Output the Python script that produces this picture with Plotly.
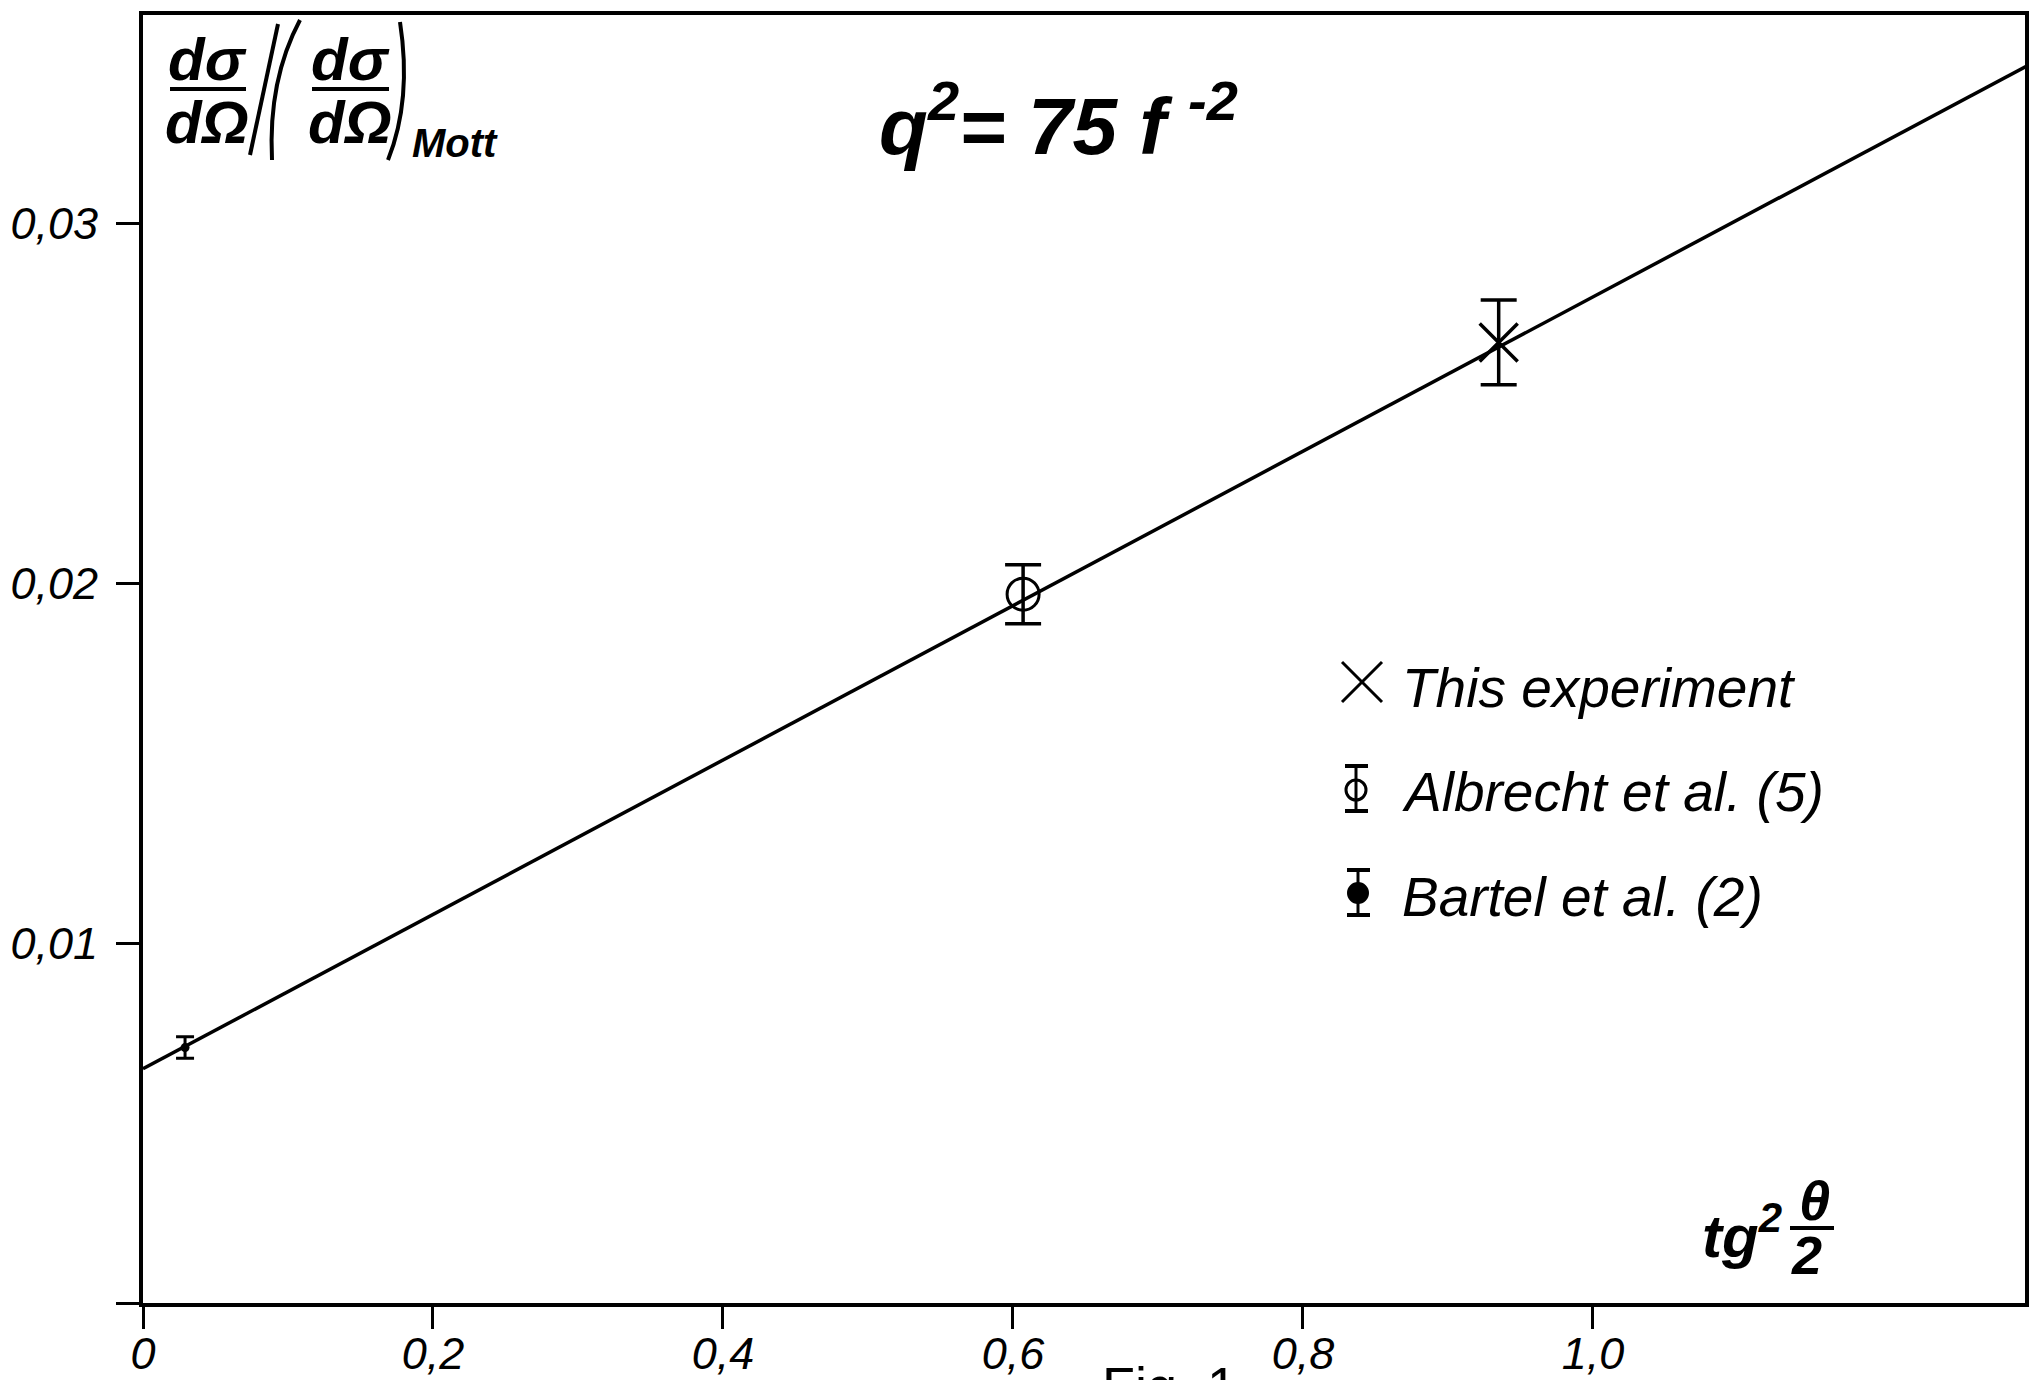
import plotly.graph_objects as go

# ---- data ----
this_x = [0.935]
this_y = [0.0267]
this_err = [0.00118]

albrecht_x = [0.607]
albrecht_y = [0.0197]
albrecht_err = [0.00082]

bartel_x = [0.029]
bartel_y = [0.0071]
bartel_err = [0.0003]

fit_x = [0.0, 1.3]
fit_y = [0.00651, 0.0344]

x_tickvals = [0, 0.2, 0.4, 0.6, 0.8, 1.0]
x_ticktext = ["0", "0,2", "0,4", "0,6", "0,8", "1,0"]
y_tickvals = [0, 0.01, 0.02, 0.03]
y_ticktext = [" ", "0,01", "0,02", "0,03"]

# ---- layout geometry ----
W, H = 2037, 1380
L, R, T, B = 143, 2025, 15, 1303

def px(x):
    return (x - L) / (R - L)

def py(y):
    return (B - y) / (B - T)

SANS = "Liberation Sans, Arial, sans-serif"

fig = go.Figure()

fig.add_trace(go.Scatter(x=fit_x, y=fit_y, mode="lines",
                         line=dict(color="black", width=3.5), showlegend=False))

fig.add_trace(go.Scatter(
    x=bartel_x, y=bartel_y, mode="markers",
    marker=dict(symbol="circle", size=9, color="black"),
    error_y=dict(type="data", array=bartel_err, visible=True, color="black",
                 thickness=3, width=9),
    showlegend=False))

fig.add_trace(go.Scatter(
    x=albrecht_x, y=albrecht_y, mode="markers",
    marker=dict(symbol="circle-open", size=32, color="black", line=dict(width=3, color="black")),
    error_y=dict(type="data", array=albrecht_err, visible=True, color="black",
                 thickness=3.5, width=18),
    showlegend=False))

fig.add_trace(go.Scatter(
    x=this_x, y=this_y, mode="markers",
    marker=dict(symbol="x-thin-open", size=38, color="black", line=dict(width=3.5, color="black")),
    error_y=dict(type="data", array=this_err, visible=True, color="black",
                 thickness=3.5, width=18),
    showlegend=False))

annotations = []
shapes = []

def text(t, x, y, size, bold=False, xanchor="center", yanchor="middle", italic=True):
    if bold:
        t = "<b>" + t + "</b>"
    annotations.append(dict(text=t, x=px(x), y=py(y), xref="paper", yref="paper",
                            showarrow=False, xanchor=xanchor, yanchor=yanchor,
                            font=dict(family=SANS, size=size, color="black",
                                      style="italic" if italic else "normal")))

def hline(x0, x1, y, w=4):
    shapes.append(dict(type="line", xref="paper", yref="paper",
                       x0=px(x0), x1=px(x1), y0=py(y), y1=py(y),
                       line=dict(color="black", width=w)))

def seg(x0, y0, x1, y1, w=3):
    shapes.append(dict(type="line", xref="paper", yref="paper",
                       x0=px(x0), x1=px(x1), y0=py(y0), y1=py(y1),
                       line=dict(color="black", width=w)))

def curve(x0, y0, cx, cy, x1, y1, w=4):
    path = "M %f,%f Q %f,%f %f,%f" % (px(x0), py(y0), px(cx), py(cy), px(x1), py(y1))
    shapes.append(dict(type="path", xref="paper", yref="paper", path=path,
                       line=dict(color="black", width=w)))

# y-axis title: dσ/dΩ / (dσ/dΩ)_Mott
text("dσ", 207, 60, 60, True)
hline(170, 246, 89)
text("dΩ", 207, 122, 60, True)
seg(250, 155, 278, 24, 4)
curve(300, 20, 268, 80, 272, 160, 4)
text("dσ", 350, 60, 60, True)
hline(312, 389, 89)
text("dΩ", 350, 122, 60, True)
curve(400, 22, 412, 100, 388, 160, 4)
text("Mott", 410, 143, 40, True, xanchor="left")

# title
text("q<sup>2</sup>= 75 f <sup>-2</sup>", 1058, 120, 80, True)

# x-axis label tg² θ/2
text("tg<sup>2</sup>", 1700, 1232, 60, True, xanchor="left")
text("θ", 1814, 1200, 56, True)
hline(1790, 1834, 1228)
text("2", 1806, 1255, 54, True)

# legend
seg(1342, 662, 1382, 702)
seg(1342, 702, 1382, 662)
text("This experiment", 1400, 688, 55, False, xanchor="left")

# Albrecht key: open circle with error bar
seg(1356, 766, 1356, 811)
hline(1345, 1368, 766, 4)
hline(1345, 1368, 811, 4)
shapes.append(dict(type="circle", xref="paper", yref="paper",
                   x0=px(1346), x1=px(1366), y0=py(780), y1=py(800),
                   line=dict(color="black", width=3)))
text("Albrecht et al. (5)", 1400, 792, 55, False, xanchor="left")

# Bartel key: filled circle with error bar
seg(1358, 870, 1358, 915)
hline(1347, 1370, 870, 4)
hline(1347, 1370, 915, 4)
shapes.append(dict(type="circle", xref="paper", yref="paper",
                   x0=px(1348), x1=px(1368), y0=py(883), y1=py(903),
                   line=dict(color="black", width=2), fillcolor="black"))
text("Bartel et al. (2)", 1400, 897, 55, False, xanchor="left")

# caption fragment cut by page edge
text("Fig. 1", 1100, 1354, 54, False, xanchor="left", yanchor="top", italic=False)

fig.update_layout(
    width=W, height=H, autosize=False,
    margin=dict(l=L, r=W - R, t=T, b=H - B, pad=0, autoexpand=False),
    paper_bgcolor="white", plot_bgcolor="white",
    showlegend=False,
    annotations=annotations, shapes=shapes,
)

tick_font = dict(family=SANS, size=45, color="black", style="italic")
fig.update_xaxes(range=[0, 1.298], tickvals=x_tickvals, ticktext=x_ticktext,
                 showgrid=False, zeroline=False, showline=True, linecolor="black",
                 linewidth=4, mirror=True, ticks="outside", ticklen=22, tickwidth=3,
                 tickcolor="black", ticklabelstandoff=-14, automargin=False,
                 tickfont=tick_font)
fig.update_yaxes(range=[0, 0.0358], tickvals=y_tickvals, ticktext=y_ticktext,
                 showgrid=False, zeroline=False, showline=True, linecolor="black",
                 linewidth=4, mirror=True, ticks="outside", ticklen=23, tickwidth=3,
                 tickcolor="black", ticklabelstandoff=9, automargin=False,
                 tickfont=tick_font)

fig.write_html("out.html", config={"displayModeBar": False},
               post_script="document.body.style.margin='0px';")
